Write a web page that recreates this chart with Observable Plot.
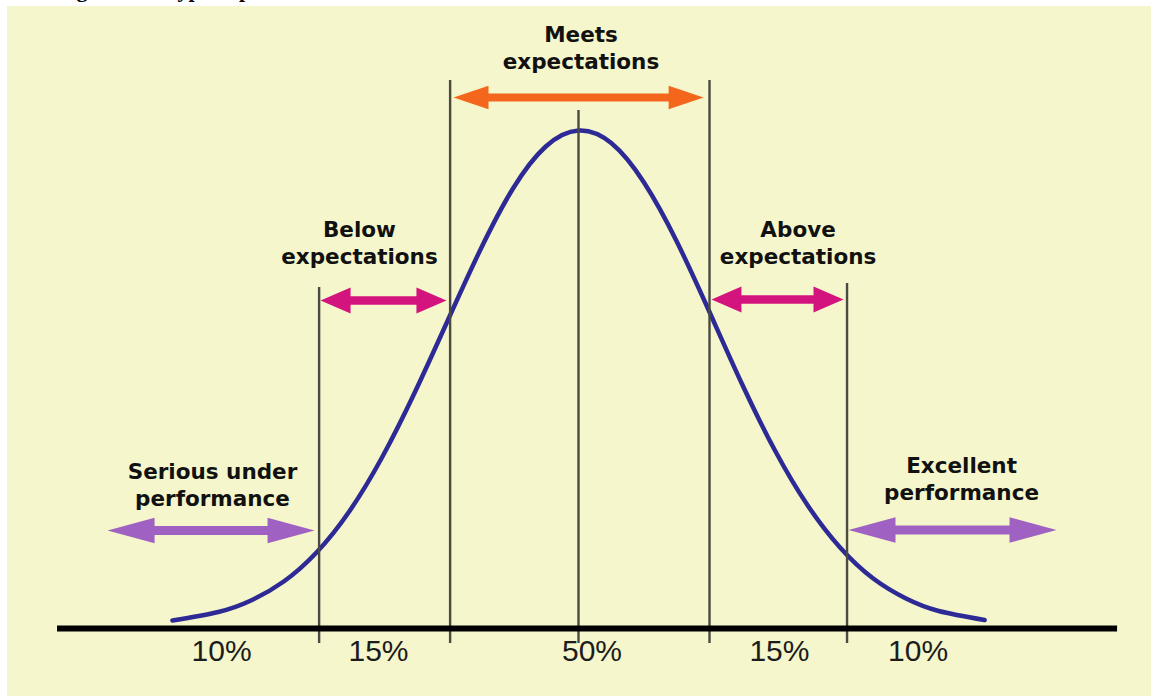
<!DOCTYPE html>
<html><head><meta charset="utf-8">
<script src="https://cdn.jsdelivr.net/npm/d3@7"></script>
<script src="https://cdn.jsdelivr.net/npm/@observablehq/plot@0.6"></script>
<style>
html,body{margin:0;padding:0;background:#fff;width:1151px;height:696px;overflow:hidden;}
#title{position:absolute;left:0;top:0;width:1151px;height:6px;overflow:hidden;}
#title span{position:absolute;left:57px;top:-21px;font:bold 22px "Liberation Serif","Times New Roman",serif;color:#000;white-space:nowrap;line-height:22px;}
#chart{position:absolute;left:7px;top:6px;}
</style></head><body>
<div id="title"><span>Figure 2.1: Typical performance distribution</span></div>
<div id="chart"></div>
<script>
// ---- data (x in units of the band boundaries, y as share of peak height) ----
const curveX = [-3.1, -2.75, -2.5, -2.25, -2.0, -1.75, -1.5, -1.25, -1.0, -0.75, -0.5, -0.25, 0.0, 0.25, 0.5, 0.75, 1.0, 1.25, 1.5, 1.75, 2.0, 2.25, 2.5, 2.75, 3.1];
const curveY = [0.016, 0.033, 0.056, 0.094, 0.152, 0.234, 0.342, 0.472, 0.615, 0.757, 0.880, 0.964, 0.996, 0.971, 0.892, 0.774, 0.633, 0.488, 0.356, 0.246, 0.161, 0.100, 0.060, 0.035, 0.017];

const boundaryX = [-1.98, -0.98, 0, 1, 2.05];
const boundaryTop = [0.682, 1.096, 1.036, 1.096, 0.69];
const boundaryBottom = -0.03;
const axisExtent = [-3.977, 4.115];

const bandShare = ["10%", "15%", "50%", "15%", "10%"];
const bandCenterX = [-2.725, -1.527, 0.103, 1.534, 2.592];
const bandLabelY = -0.046;

const ratingLabel = ["Serious under\nperformance", "Below\nexpectations", "Meets\nexpectations", "Above\nexpectations", "Excellent\nperformance"];
const ratingLabelX = [-2.794, -1.672, 0.019, 1.676, 2.924];
const ratingLabelY = [0.246, 0.729, 1.119, 0.729, 0.257];

const arrowFrom = [-3.595, -1.969, -0.954, 1.015, 2.061];
const arrowTo = [-2.015, -1.008, 0.955, 2.023, 3.649];
const arrowY = [0.196, 0.656, 1.062, 0.658, 0.197];
const arrowTier = ["outer", "inner", "middle", "inner", "outer"];

// ---- build tables ----
const curve = curveX.map((x, i) => ({x, y: curveY[i]}));
const boundaries = boundaryX.map((x, i) => ({x, y1: boundaryBottom, y2: boundaryTop[i]}));
const bands = bandShare.map((t, i) => ({x: bandCenterX[i], y: bandLabelY, t}));
const ratings = ratingLabel.map((t, i) => ({x: ratingLabelX[i], y: ratingLabelY[i], t}));
const arrows = arrowFrom.map((x1, i) => ({x1, x2: arrowTo[i], y: arrowY[i], tier: arrowTier[i]}));
const baseline = [{x1: axisExtent[0], x2: axisExtent[1], y: 0}];

// arrow styles per tier
const tierStyle = {
  outer: {color: "#a062c2", len: 47, half: 12.8, w: 9},
  inner: {color: "#d3147e", len: 30, half: 13, w: 8.5},
  middle: {color: "#f4661c", len: 35, half: 11.8, w: 8}
};
const head = (len, half, dir) => ({
  draw(ctx) {
    ctx.moveTo(0, 0);
    ctx.lineTo(-dir * len, -half);
    ctx.lineTo(-dir * len, half);
    ctx.closePath();
  }
});

const arrowMarks = Object.entries(tierStyle).flatMap(([tier, s]) => {
  const d = arrows.filter(a => a.tier === tier);
  return [
    Plot.ruleY(d, {x1: "x1", x2: "x2", y: "y", stroke: s.color, strokeWidth: s.w, insetLeft: s.len * 0.6, insetRight: s.len * 0.6}),
    Plot.dot(d, {x: "x1", y: "y", r: 6, symbol: head(s.len, s.half, -1), fill: s.color, stroke: "none"}),
    Plot.dot(d, {x: "x2", y: "y", r: 6, symbol: head(s.len, s.half, 1), fill: s.color, stroke: "none"})
  ];
});

const chart = Plot.plot({
  width: 1144,
  height: 690,
  marginLeft: 47,
  marginRight: 49,
  marginTop: 2,
  marginBottom: 68,
  x: {domain: [-4, 4], axis: null},
  y: {domain: [0, 1.24], axis: null},
  style: {background: "#f5f6cb", overflow: "visible"},
  marks: [
    Plot.line(curve, {x: "x", y: "y", curve: "natural", stroke: "#2d2a95", strokeWidth: 4.5}),
    Plot.ruleX(boundaries, {x: "x", y1: "y1", y2: "y2", stroke: "#4a4a42", strokeWidth: 2.4}),
    Plot.ruleY(baseline, {x1: "x1", x2: "x2", y: "y", stroke: "#000", strokeWidth: 6}),
    ...arrowMarks,
    Plot.text(bands, {x: "x", y: "y", text: "t", fontSize: 30, fontFamily: "Liberation Sans, Arial, sans-serif", fill: "#1c1c1c", lineAnchor: "middle"}),
    Plot.text(ratings, {x: "x", y: "y", text: "t", fontSize: 21.5, fontWeight: "bold", fontFamily: "DejaVu Sans, sans-serif", fill: "#111", lineAnchor: "bottom", lineHeight: 1.256})
  ]
});
document.getElementById("chart").appendChild(chart);
</script>
</body></html>
